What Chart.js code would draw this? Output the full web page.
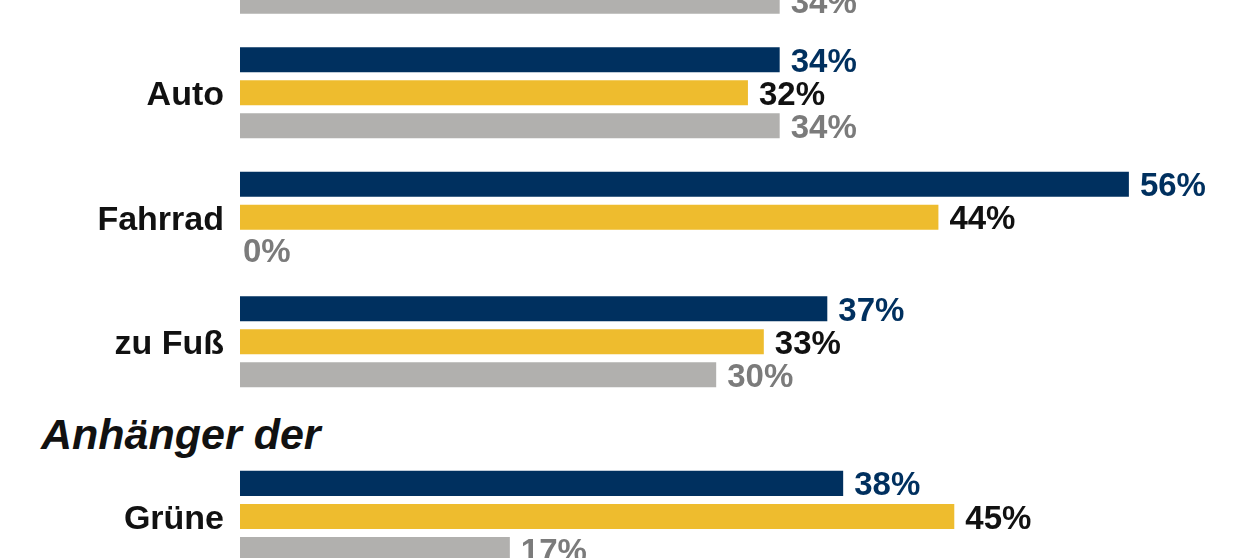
<!DOCTYPE html>
<html lang="de">
<head>
    <meta charset="UTF-8" />
    <title>Verkehrsmittel</title>
    <style>
        * { margin: 0; padding: 0; box-sizing: border-box; }
        body {
            width: 1241px;
            height: 558px;
            overflow: hidden;
            background: #FFFFFF;
            position: relative;
            font-family: 'Liberation Sans', Arial, sans-serif;
        }
        #chartTop { position: absolute; left: 0; top: -94px; }
        #chartBottom { position: absolute; left: 0; top: 454px; }
        .section {
            position: absolute;
            left: 41px;
            top: 413px;
            font-size: 43px;
            line-height: 43px;
            font-weight: bold;
            font-style: italic;
            color: #111111;
        }
    </style>
</head>
<body>
    <canvas id="chartTop" width="1241" height="498"></canvas>
    <div class="section">Anhänger der</div>
    <canvas id="chartBottom" width="1241" height="125"></canvas>

    <script src="https://cdn.jsdelivr.net/npm/chart.js"></script>
    <script>
        // Verkehrsmittel (obere Gruppe, erste Kategorie ist oben abgeschnitten)
        const verkehrLabels = ['ÖPNV', 'Auto', 'Fahrrad', 'zu Fuß'];
        const verkehrBlau = [null, 34, 56, 37];
        const verkehrGelb = [null, 32, 44, 33];
        const verkehrGrau = [34, 34, 0, 30];

        // Anhänger der ...
        const parteiLabels = ['Grüne'];
        const parteiBlau = [38];
        const parteiGelb = [45];
        const parteiGrau = [17];

        const xMax = 63;

        const colors = {
            blau: '#00305F',
            gelb: '#EEBC2E',
            grau: '#B1B0AE'
        };
        const labelColors = ['#00305F', '#111111', '#7B7B7B'];

        // draws "NN%" right of each bar
        const valueLabels = {
            id: 'valueLabels',
            afterDatasetsDraw(chart) {
                const ctx = chart.ctx;
                ctx.save();
                ctx.font = 'bold 33px "Liberation Sans", Arial, sans-serif';
                ctx.textAlign = 'left';
                ctx.textBaseline = 'middle';
                chart.data.datasets.forEach((ds, i) => {
                    const meta = chart.getDatasetMeta(i);
                    meta.data.forEach((bar, j) => {
                        const v = ds.data[j];
                        if (v === null || v === undefined) return;
                        ctx.fillStyle = labelColors[i];
                        const gap = v === 0 ? 3 : 11;
                        ctx.fillText(v + '%', bar.x + gap, bar.y + 3);
                    });
                });
                ctx.restore();
            }
        };

        function makeChart(id, labels, blau, gelb, grau) {
            return new Chart(document.getElementById(id), {
                type: 'bar',
                data: {
                    labels: labels,
                    datasets: [
                        { data: blau, backgroundColor: colors.blau },
                        { data: gelb, backgroundColor: colors.gelb },
                        { data: grau, backgroundColor: colors.grau }
                    ]
                },
                options: {
                    indexAxis: 'y',
                    responsive: false,
                    animation: false,
                    layout: { padding: { top: 0, bottom: 0, left: 0, right: 1 } },
                    datasets: {
                        bar: {
                            categoryPercentage: 0.795,
                            barPercentage: 0.758
                        }
                    },
                    scales: {
                        x: {
                            type: 'linear',
                            min: 0,
                            max: xMax,
                            display: false
                        },
                        y: {
                            grid: { display: false, drawTicks: false },
                            border: { display: false },
                            ticks: {
                                autoSkip: false,
                                padding: 16,
                                labelOffset: 3,
                                color: '#111111',
                                font: { family: '"Liberation Sans", Arial, sans-serif', size: 34, weight: 'bold' }
                            },
                            afterFit(scale) {
                                scale.width = 240;
                                scale.paddingTop = 0;
                                scale.paddingBottom = 0;
                            }
                        }
                    },
                    plugins: {
                        legend: { display: false },
                        tooltip: { enabled: false }
                    }
                },
                plugins: [valueLabels]
            });
        }

        makeChart('chartTop', verkehrLabels, verkehrBlau, verkehrGelb, verkehrGrau);
        makeChart('chartBottom', parteiLabels, parteiBlau, parteiGelb, parteiGrau);
    </script>
</body>
</html>
